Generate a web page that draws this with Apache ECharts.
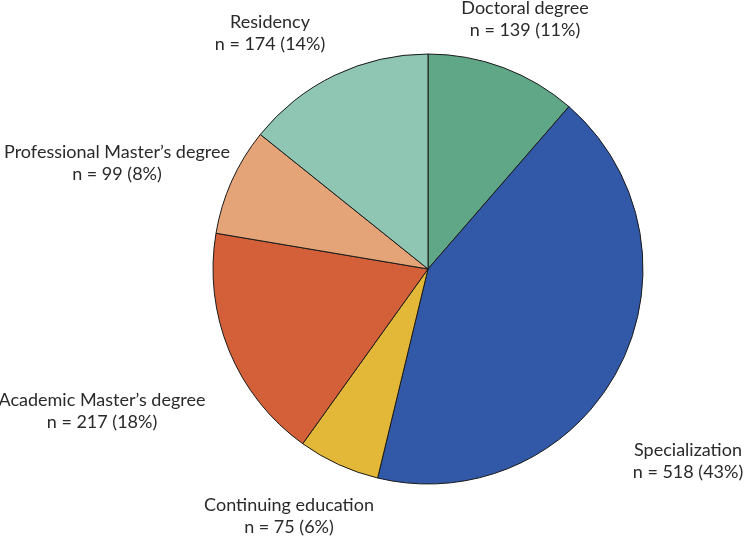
<!DOCTYPE html>
<html>
<head>
<meta charset="utf-8">
<script src="https://cdn.jsdelivr.net/npm/echarts@6/dist/echarts.min.js"></script>
<style>
	html, body { margin: 0; padding: 0; background: #fff; }
	#chart { width: 750px; height: 537px; }
</style>
</head>
<body>
<div id="chart"></div>
<script>
var categories = ["Doctoral degree", "Specialization", "Continuing education", "Academic Master\u2019s degree", "Professional Master\u2019s degree", "Residency"];
var counts = [139, 518, 75, 217, 99, 174];
// percentages as printed in the figure
var percents = [11, 43, 6, 18, 8, 14];
var colors = ["#5fa786", "#3259a7", "#e3b838", "#d4603a", "#e4a477", "#8ec6b3"];

// where each label sits (centre of the two text lines)
var labelSpots = [
	[525, 19],
	[688, 461],
	[289, 516],
	[102, 411],
	[117, 163],
	[270, 33]
];

var chart = echarts.init(document.getElementById("chart"));

var data = categories.map(function(name, i) {
	return {
		name: name,
		value: counts[i],
		itemStyle: { color: colors[i] }
	};
});

chart.setOption({
	animation: false,
	series: [{
		type: "pie",
		center: [428, 269],
		radius: 215,
		startAngle: 90,
		clockwise: true,
		data: data,
		itemStyle: {
			borderColor: "#1a1a1a",
			borderWidth: 1
		},
		label: {
			show: true,
			position: "outside",
			fontFamily: "Lato",
			fontSize: 18,
			lineHeight: 22,
			color: "#2a2a2a",
			align: "center",
			overflow: "none",
			formatter: function(p) {
				return p.name + "\nn = " + p.value + " (" + percents[p.dataIndex] + "%)";
			}
		},
		labelLine: { show: false },
		labelLayout: function(params) {
			var spot = labelSpots[params.dataIndex];
			return {
				x: spot[0],
				y: spot[1],
				align: "center",
				verticalAlign: "middle"
			};
		},
		emphasis: { disabled: true }
	}]
});
</script>
</body>
</html>
